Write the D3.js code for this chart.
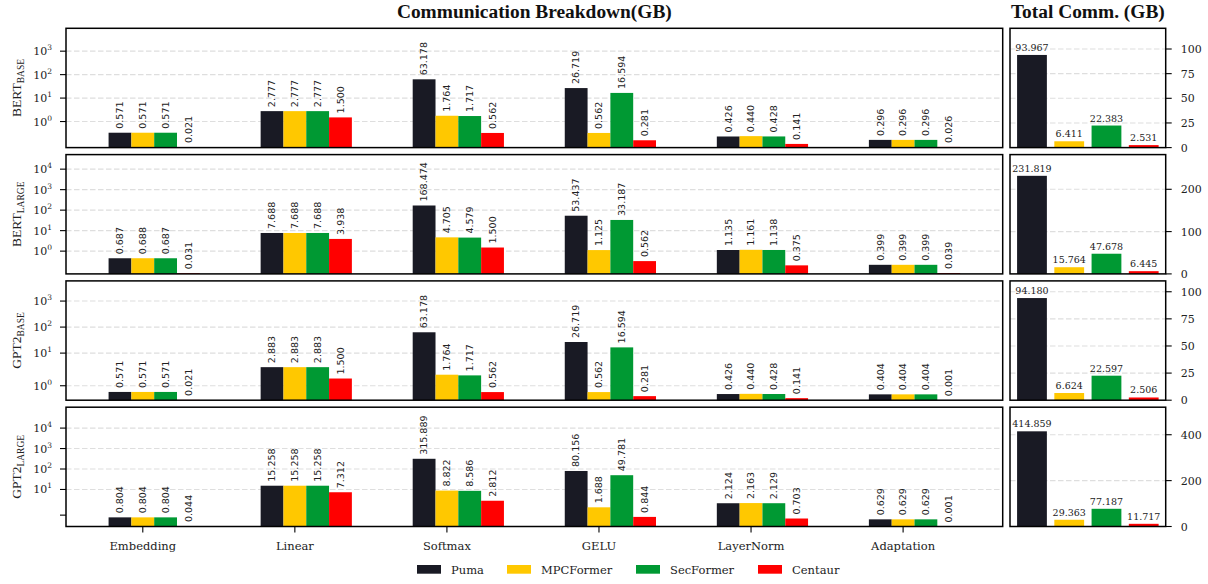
<!DOCTYPE html>
<html>
<head>
<meta charset="utf-8">
<script src="https://cdn.jsdelivr.net/npm/d3@7"></script>
<style>
  html, body { margin: 0; padding: 0; background: #fff; }
  svg { display: block; }
</style>
</head>
<body>
<svg id="chart" width="1208" height="584"></svg>
<script>
// ---- data -------------------------------------------------------------
const categories = ["Embedding", "Linear", "Softmax", "GELU", "LayerNorm", "Adaptation"];
const methods = ["Puma", "MPCFormer", "SecFormer", "Centaur"];
const modelNames = ["BERT", "BERT", "GPT2", "GPT2"];
const modelSizes = ["BASE", "LARGE", "BASE", "LARGE"];

// per-operation communication (GB), one row per method
const bertBaseBreakdown = [
  [0.571, 2.777, 63.178, 26.719, 0.426, 0.296],
  [0.571, 2.777, 1.764, 0.562, 0.440, 0.296],
  [0.571, 2.777, 1.717, 16.594, 0.428, 0.296],
  [0.021, 1.500, 0.562, 0.281, 0.141, 0.026]
];
const bertLargeBreakdown = [
  [0.687, 7.688, 168.474, 53.437, 1.135, 0.399],
  [0.688, 7.688, 4.705, 1.125, 1.161, 0.399],
  [0.687, 7.688, 4.579, 33.187, 1.138, 0.399],
  [0.031, 3.938, 1.500, 0.562, 0.375, 0.039]
];
const gpt2BaseBreakdown = [
  [0.571, 2.883, 63.178, 26.719, 0.426, 0.404],
  [0.571, 2.883, 1.764, 0.562, 0.440, 0.404],
  [0.571, 2.883, 1.717, 16.594, 0.428, 0.404],
  [0.021, 1.500, 0.562, 0.281, 0.141, 0.001]
];
const gpt2LargeBreakdown = [
  [0.804, 15.258, 315.889, 80.156, 2.124, 0.629],
  [0.804, 15.258, 8.822, 1.688, 2.163, 0.629],
  [0.804, 15.258, 8.586, 49.781, 2.129, 0.629],
  [0.044, 7.312, 2.812, 0.844, 0.703, 0.001]
];

// total communication (GB) per method
const bertBaseTotal = [93.967, 6.411, 22.383, 2.531];
const bertLargeTotal = [231.819, 15.764, 47.678, 6.445];
const gpt2BaseTotal = [94.180, 6.624, 22.597, 2.506];
const gpt2LargeTotal = [414.859, 29.363, 77.187, 11.717];

// axis settings per row
const symlogThresh = [1, 1, 2, 2];
const logAxisMax = [9440, 51300, 5960, 105000];
const logTickExps = [[0, 1, 2, 3], [0, 1, 2, 3, 4], [0, 1, 2, 3], [0, 1, 2, 3, 4]];
const logTickLabeled = [[0, 1, 2, 3], [0, 1, 2, 3, 4], [0, 1, 2, 3], [1, 2, 3, 4]];
const totalAxisMax = [121, 282, 110, 520];
const totalTicks = [[0, 25, 50, 75, 100], [0, 100, 200], [0, 25, 50, 75, 100], [0, 200, 400]];

const breakdowns = [bertBaseBreakdown, bertLargeBreakdown, gpt2BaseBreakdown, gpt2LargeBreakdown];
const totals = [bertBaseTotal, bertLargeTotal, gpt2BaseTotal, gpt2LargeTotal];

// ---- styling ----------------------------------------------------------
const colors = ["#191a24", "#ffc800", "#009933", "#ff0000"];
const serif = "'DejaVu Serif', serif";
const times = "'Liberation Serif', 'Times New Roman', serif";
const sans = "'DejaVu Sans', sans-serif";
const gridColor = "#dedede";

// ---- layout -----------------------------------------------------------
const leftX0 = 66, leftX1 = 1002.7;
const rightX0 = 1010, rightX1 = 1165.7;
const rowTop0 = 28.3, rowStep = 126.3, rowH = 119.3;

const svg = d3.select("#chart");

// matplotlib-style symlog: linear below the threshold, log10 above it
const LINSCALE = 1 / (1 - 1 / 10);
function symlog(v, th) {
  return v <= th ? (v / th) * LINSCALE : LINSCALE + Math.log10(v / th);
}

const xLeft = d3.scaleLinear().domain([-0.505, 5.655]).range([leftX0, leftX1]);
const xRight = d3.scaleLinear().domain([-0.59, 3.59]).range([rightX0, rightX1]);
const barW = 0.15;

breakdowns.forEach((rows, r) => {
  const top = rowTop0 + r * rowStep;
  const bottom = top + rowH;
  const th = symlogThresh[r];
  const yLin = d3.scaleLinear().domain([0, symlog(logAxisMax[r], th)]).range([bottom, top]);
  const y = v => yLin(symlog(v, th));

  const g = svg.append("g");

  // grid lines at decades
  logTickExps[r].filter(e => logTickLabeled[r].includes(e)).forEach(e => {
    g.append("line")
      .attr("x1", leftX0).attr("x2", leftX1)
      .attr("y1", y(Math.pow(10, e))).attr("y2", y(Math.pow(10, e)))
      .attr("stroke", gridColor).attr("stroke-width", 1.1)
      .attr("stroke-dasharray", "5.5,2.5");
  });

  // bars + rotated value labels
  rows.forEach((vals, m) => {
    vals.forEach((v, c) => {
      const cx = c + (m - 1) * barW;
      g.append("rect")
        .attr("x", xLeft(cx - barW / 2))
        .attr("width", xLeft(cx + barW / 2) - xLeft(cx - barW / 2))
        .attr("y", y(v))
        .attr("height", bottom - y(v))
        .attr("fill", colors[m]);
      const px = xLeft(cx), py = y(v) - 4;
      g.append("text")
        .attr("transform", `translate(${px},${py}) rotate(-90)`)
        .attr("dy", "0.35em")
        .attr("text-anchor", "start")
        .attr("font-family", sans)
        .attr("font-size", 9.5)
        .attr("fill", "#222")
        .text(v.toFixed(3));
    });
  });

  // y ticks (left)
  logTickExps[r].forEach(e => {
    const ty = y(Math.pow(10, e));
    g.append("line").attr("x1", leftX0 - 6).attr("x2", leftX0)
      .attr("y1", ty).attr("y2", ty).attr("stroke", "#000").attr("stroke-width", 1.1);
    if (logTickLabeled[r].includes(e)) {
      const t = g.append("text")
        .attr("x", 52).attr("y", ty + 4)
        .attr("text-anchor", "end")
        .attr("font-family", serif).attr("font-size", 11)
        .attr("fill", "#222");
      t.append("tspan").text("10");
      t.append("tspan").attr("dy", -5).attr("font-size", 7.5).text(String(e));
    }
  });

  // frame
  g.append("rect")
    .attr("x", leftX0).attr("y", top)
    .attr("width", leftX1 - leftX0).attr("height", rowH)
    .attr("fill", "none").attr("stroke", "#000").attr("stroke-width", 1.5);

  // row label
  const lab = g.append("text")
    .attr("transform", `translate(21,${(top + bottom) / 2}) rotate(-90)`)
    .attr("text-anchor", "middle")
    .attr("font-family", times).attr("font-size", 13.5)
    .attr("fill", "#222");
  lab.append("tspan").text(modelNames[r]);
  lab.append("tspan").attr("dy", 2.5).attr("font-size", 9.5).text(modelSizes[r]);

  // ---- totals panel ----
  const yT = d3.scaleLinear().domain([0, totalAxisMax[r]]).range([bottom, top]);
  const gr = svg.append("g");
  totalTicks[r].forEach(t => {
    if (t > 0) {
      gr.append("line")
        .attr("x1", rightX0).attr("x2", rightX1)
        .attr("y1", yT(t)).attr("y2", yT(t))
        .attr("stroke", gridColor).attr("stroke-width", 1.1)
        .attr("stroke-dasharray", "5.5,2.5");
    }
  });
  totals[r].forEach((v, m) => {
    gr.append("rect")
      .attr("x", xRight(m - 0.4))
      .attr("width", xRight(m + 0.4) - xRight(m - 0.4))
      .attr("y", yT(v))
      .attr("height", bottom - yT(v))
      .attr("fill", colors[m]);
    gr.append("text")
      .attr("x", xRight(m)).attr("y", yT(v) - 4)
      .attr("text-anchor", "middle")
      .attr("font-family", serif).attr("font-size", 9.5)
      .attr("fill", "#222")
      .text(v.toFixed(3));
  });
  totalTicks[r].forEach(t => {
    gr.append("line").attr("x1", rightX1).attr("x2", rightX1 + 6)
      .attr("y1", yT(t)).attr("y2", yT(t)).attr("stroke", "#000").attr("stroke-width", 1.1);
    gr.append("text")
      .attr("x", rightX1 + 15).attr("y", yT(t) + 4)
      .attr("font-family", serif).attr("font-size", 11)
      .attr("fill", "#222")
      .text(t);
  });
  gr.append("rect")
    .attr("x", rightX0).attr("y", top)
    .attr("width", rightX1 - rightX0).attr("height", rowH)
    .attr("fill", "none").attr("stroke", "#000").attr("stroke-width", 1.5);

  // category axis under the last row
  if (r === breakdowns.length - 1) {
    categories.forEach((c, i) => {
      g.append("line").attr("x1", xLeft(i)).attr("x2", xLeft(i))
        .attr("y1", bottom).attr("y2", bottom + 6)
        .attr("stroke", "#000").attr("stroke-width", 1.1);
      g.append("text")
        .attr("x", xLeft(i)).attr("y", bottom + 23)
        .attr("text-anchor", "middle")
        .attr("font-family", serif).attr("font-size", 11.5)
        .attr("fill", "#222")
        .text(c);
    });
  }
});

// titles
svg.append("text")
  .attr("x", (leftX0 + leftX1) / 2).attr("y", 18)
  .attr("text-anchor", "middle")
  .attr("font-family", times).attr("font-weight", "bold").attr("font-size", 19.4)
  .attr("fill", "#111")
  .text("Communication Breakdown(GB)");
svg.append("text")
  .attr("x", (rightX0 + rightX1) / 2).attr("y", 18)
  .attr("text-anchor", "middle")
  .attr("font-family", times).attr("font-weight", "bold").attr("font-size", 19.4)
  .attr("fill", "#111")
  .text("Total Comm. (GB)");

// legend
const legendX = [417, 507, 636, 758];
const legend = svg.append("g");
methods.forEach((name, m) => {
  legend.append("rect")
    .attr("x", legendX[m]).attr("y", 565)
    .attr("width", 24).attr("height", 8.7)
    .attr("fill", colors[m]);
  legend.append("text")
    .attr("x", legendX[m] + 34).attr("y", 574)
    .attr("font-family", serif).attr("font-size", 11.5)
    .attr("fill", "#222")
    .text(name);
});
</script>
</body>
</html>
